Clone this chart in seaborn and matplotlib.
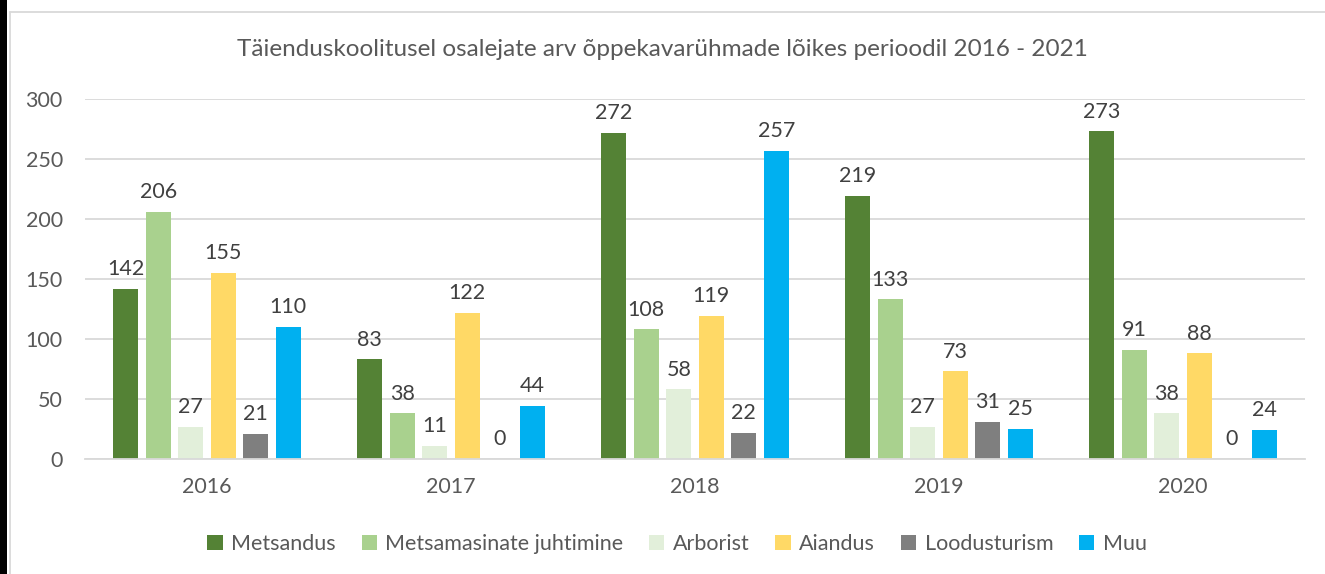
import pandas as pd
import numpy as np
import seaborn as sns
import matplotlib.pyplot as plt
from matplotlib.patches import Patch, Rectangle
from matplotlib.lines import Line2D

# Data
years = ['2016', '2017', '2018', '2019', '2020']
groups = ['Metsandus', 'Metsamasinate juhtimine', 'Arborist', 'Aiandus', 'Loodusturism', 'Muu']
metsandus = [142, 83, 272, 219, 273]
metsamasinad = [206, 38, 108, 133, 91]
arborist = [27, 11, 58, 27, 38]
aiandus = [155, 122, 119, 73, 88]
loodusturism = [21, 0, 22, 31, 0]
muu = [110, 44, 257, 25, 24]
colors = ['#548235', '#A9D18E', '#E2EFDA', '#FFD966', '#7F7F7F', '#00B0F0']
title = 'Täienduskoolitusel osalejate arv õppekavarühmade lõikes perioodil 2016 - 2021'

df = pd.DataFrame({'aasta': years, groups[0]: metsandus, groups[1]: metsamasinad,
                   groups[2]: arborist, groups[3]: aiandus, groups[4]: loodusturism, groups[5]: muu})
df_long = pd.melt(df, id_vars=['aasta'], var_name='ryhm', value_name='arv')

sns.set_style('white')
plt.rcParams['font.family'] = ['Lato', 'DejaVu Sans']

fig = plt.figure(figsize=(13.25, 5.74), dpi=100)
ax = fig.add_axes([85 / 1325, 1 - 459 / 574, 1220 / 1325, 360 / 574])

sns.barplot(data=df_long, x='aasta', y='arv', hue='ryhm', hue_order=groups,
            palette=colors, width=0.8, saturation=1, legend=False, ax=ax)

# shrink bars to leave white gaps like the original
for p in ax.patches:
    w = p.get_width()
    nw = w * 0.77
    p.set_x(p.get_x() + (w - nw) / 2)
    p.set_width(nw)
    p.set_edgecolor('none')

for c in ax.containers:
    ax.bar_label(c, fmt='%d', padding=7, fontsize=15.5, color='#404040')

ax.set_ylim(0, 300)
ax.set_yticks(range(0, 301, 50))
ax.set_xlim(-0.5, 4.5)
ax.yaxis.grid(True, color='#D9D9D9', linewidth=1.3)
ax.set_axisbelow(True)
for s in ['top', 'right', 'left']:
    ax.spines[s].set_visible(False)
ax.spines['bottom'].set_color('#D9D9D9')
ax.spines['bottom'].set_linewidth(1.3)
ax.tick_params(axis='y', length=0, pad=16, labelsize=15.5, labelcolor='#595959')
ax.tick_params(axis='x', length=0, pad=13, labelsize=15.5, labelcolor='#595959')
ax.set_xlabel('')
ax.set_ylabel('')

fig.text(0.5, 1 - 50 / 574, title, ha='center', va='center', fontsize=17.5, color='#595959')

handles = [Patch(facecolor=c, edgecolor='none') for c in colors]
fig.legend(handles, groups, loc='center', bbox_to_anchor=(0.511, 1 - 544 / 574), ncol=6,
           frameon=False, fontsize=15.5, handlelength=0.7, handleheight=0.7,
           handletextpad=0.4, columnspacing=1.2, labelcolor='#595959')

# chart frame: black strip on the left and light grey border
fig.patches.append(Rectangle((0, 0), 7 / 1325, 1, transform=fig.transFigure,
                             facecolor='black', edgecolor='none'))
fig.lines.append(Line2D([10 / 1325, 10 / 1325], [0, 1 - 12 / 574], transform=fig.transFigure,
                        color='#D9D9D9', linewidth=1.3))
fig.lines.append(Line2D([10 / 1325, 1], [1 - 12 / 574, 1 - 12 / 574], transform=fig.transFigure,
                        color='#D9D9D9', linewidth=1.3))

fig.savefig('out.png', dpi=100)
